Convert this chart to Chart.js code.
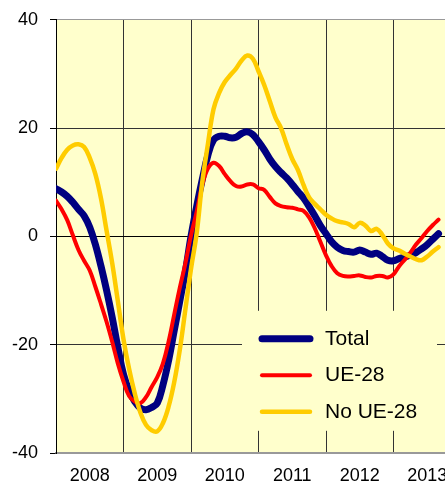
<!DOCTYPE html>
<html>
<head>
<meta charset="utf-8">
<script src="https://cdn.jsdelivr.net/npm/chart.js@4/dist/chart.umd.min.js"></script>
<style>
  html, body { margin: 0; padding: 0; background: #fff; overflow: hidden; }
  #wrap { width: 445px; height: 484px; overflow: hidden; }
  #grafico { display: block; margin-top: -3px; }
</style>
</head>
<body>
<div id="wrap"><canvas id="grafico" width="470" height="487"></canvas></div>
<script>
// anios del eje x (una etiqueta por anio, la rejilla va entre anios)
const anios = ["2008", "2009", "2010", "2011", "2012", "2013"];

// datos mensuales desde enero 2008 hasta septiembre 2013 (tasa de variacion, %)
const total = [
  8.8, 8.2, 7.4, 6.3, 5.0, 3.8, 1.7, -1.5, -5.5, -10, -15, -20.5,
  -25.5, -28.5, -30.5, -31.7, -32, -31.6, -30.8, -27.5, -23, -17.5, -12, -6.5,
  0, 5.5, 10.5, 15, 17.8, 18.5, 18.5, 18.2, 18.3, 19, 19.3, 18.8,
  17.5, 16, 14.3, 12.9, 11.8, 10.8, 9.6, 8.3, 7.1, 5.5, 3.8, 2.0,
  0.5, -1.0, -2.0, -2.6, -2.8, -2.9, -2.5, -2.9, -3.3, -3.1, -3.7, -4.4,
  -4.5, -4.1, -3.8, -3.5, -3.0, -2.3, -1.5, -0.5, 0.5
];
const ue28 = [
  6.6, 5.0, 3.0, 0.2, -2.5, -4.5, -6.3, -9.3, -12.5, -15.8, -19.5, -23.5,
  -26.8, -29.5, -30.5, -30.8, -29.7, -27.8, -26, -23.5, -19.5, -14.5, -9.5, -5,
  0.2, 4.5, 9.5, 12.5, 13.6, 13, 11.5, 10.2, 9.3, 9.2, 9.6, 9.6,
  8.9, 8.6, 7.3, 6.1, 5.6, 5.4, 5.3, 5.0, 4.7, 3.5, 1.5, -1.0,
  -3.5, -5.5, -6.8, -7.3, -7.4, -7.3, -7.2, -7.5, -7.6, -7.3, -7.3, -7.6,
  -7.0, -5.5, -4.3, -3.0, -1.5, -0.3, 1.0, 2.1, 3.1
];
const noUe28 = [
  12.5, 14.5, 16, 16.8, 17, 16.5, 14.5, 11.5, 7, 1.0, -5, -12,
  -19, -24.5, -29, -32.5, -34.8, -35.8, -36, -34.5, -31.5, -27, -21, -13.5,
  -6, 0.5, 10, 17, 23.5, 26.5, 28.5, 29.8, 31, 32.5, 33.4, 32.8,
  30.5, 28.0, 25, 22, 20, 17, 14.3, 12.3, 9.5, 7.2, 6, 5.0,
  4.0, 3.3, 2.8, 2.6, 2.3, 1.7, 2.5, 2.0, 1.0, 1.4, 0.3, -1.3,
  -2.2, -2.6, -3.2, -3.7, -4.2, -4.4, -3.7, -2.8, -2.0
];
const nombres = ["Total", "UE-28", "No UE-28"];
const ticksY = [-40, -20, 0, 20, 40];

const fuente = 'Arial, "Liberation Sans", sans-serif';

// convierte la lista de valores en puntos {x: mes, y: valor}
function aPuntos(valores) {
  return valores.map((v, i) => ({ x: i, y: v }));
}

// fondo amarillo del area de trazado
const fondoPlot = {
  id: "fondoPlot",
  beforeDraw(chart) {
    const { ctx, chartArea } = chart;
    ctx.save();
    ctx.fillStyle = "#FFFFCC";
    ctx.fillRect(chartArea.left, chartArea.top, chartArea.right - chartArea.left, chartArea.bottom - chartArea.top);
    ctx.restore();
  }
};

// leyenda dentro del grafico, abajo a la derecha
const leyendaInterna = {
  id: "leyendaInterna",
  afterDraw(chart) {
    const { ctx, chartArea } = chart;
    const x0 = chartArea.left + 186;
    const y0 = chartArea.top + 291;
    ctx.save();
    ctx.fillStyle = "#FFFFCC";
    ctx.fillRect(x0, y0, 195, 120);
    chart.data.datasets.forEach((ds, i) => {
      const y = y0 + 28 + i * 36.5;
      ctx.beginPath();
      ctx.strokeStyle = ds.borderColor;
      ctx.lineWidth = ds.borderWidth;
      ctx.lineCap = "round";
      ctx.moveTo(x0 + 20, y);
      ctx.lineTo(x0 + 68, y);
      ctx.stroke();
      ctx.fillStyle = "#000";
      ctx.font = "21px " + fuente;
      ctx.textBaseline = "middle";
      ctx.fillText(ds.label, x0 + 83, y);
    });
    ctx.restore();
  }
};

const config = {
  type: "line",
  data: {
    datasets: [
      { label: nombres[0], data: aPuntos(total), borderColor: "#000080", borderWidth: 7, order: 3 },
      { label: nombres[1], data: aPuntos(ue28), borderColor: "#FF0000", borderWidth: 4, order: 2 },
      { label: nombres[2], data: aPuntos(noUe28), borderColor: "#FFCC00", borderWidth: 4.5, order: 1 }
    ].map(d => Object.assign(d, {
      xAxisID: "xm", yAxisID: "y", pointRadius: 0, tension: 0.4,
      borderCapStyle: "round", borderJoinStyle: "round", fill: false
    }))
  },
  options: {
    responsive: false,
    animation: false,
    layout: { padding: { top: 16, right: 9, left: 0, bottom: 0 } },
    plugins: { legend: { display: false }, tooltip: { enabled: false } },
    scales: {
      x: {
        type: "category",
        labels: anios,
        offset: true,
        grid: { offset: true, color: "#333", drawTicks: false },
        border: { color: "#999", width: 1.5 },
        ticks: { font: { family: fuente, size: 18 }, color: "#000", padding: 12 },
        afterFit(s) { s.height = 31; }
      },
      xm: { type: "linear", min: 0, max: 72, display: false },
      y: {
        min: -40, max: 40,
        afterBuildTicks(s) { s.ticks = ticksY.map(v => ({ value: v })); },
        grid: {
          color: c => c.tick.value === 0 ? "#000" : (Math.abs(c.tick.value) === 40 ? "#999" : "#333"),
          tickLength: 6,
          tickColor: "#000"
        },
        border: { color: "#000" },
        ticks: { font: { family: fuente, size: 18 }, color: "#000", padding: 12 },
        afterFit(s) { s.width = 56; }
      }
    }
  },
  plugins: [fondoPlot, leyendaInterna]
};

new Chart(document.getElementById("grafico"), config);
</script>
</body>
</html>
